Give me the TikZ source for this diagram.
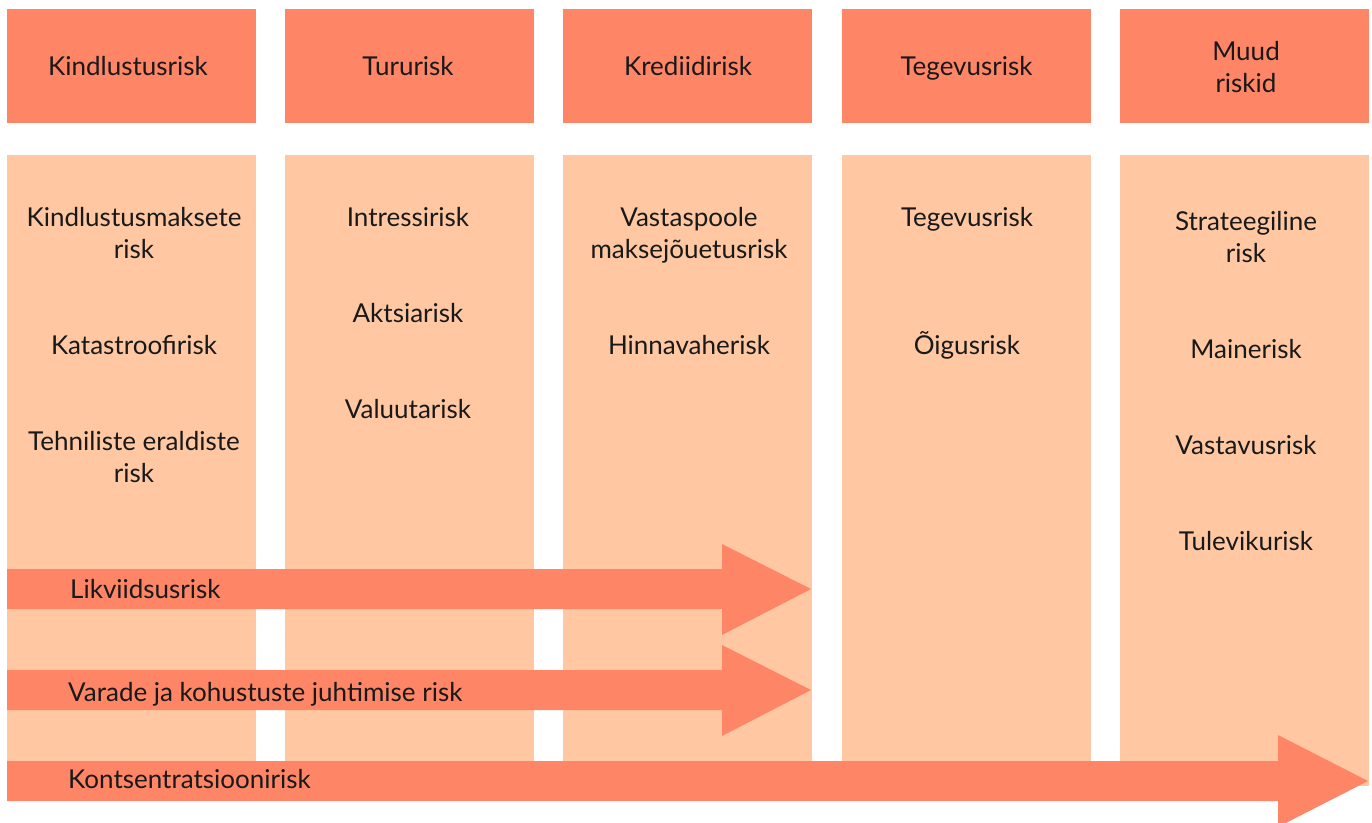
\documentclass[tikz,border=0pt]{standalone}
\usepackage{fontspec}
\setmainfont{Lato}
\definecolor{hdr}{HTML}{FF8567}
\definecolor{bdy}{HTML}{FFC8A2}
\tikzset{
  x=1pt,y=-1pt,
  lbl/.style={font=\fontsize{26}{32}\selectfont, align=center, inner sep=0pt, text=black!90},
  albl/.style={font=\fontsize{26}{32}\selectfont, anchor=west, inner sep=0pt, text=black!90},
}
\begin{document}
\begin{tikzpicture}
\useasboundingbox (0,0) rectangle (1372,822);
\clip (0,0) rectangle (1372,822);
% columns
\foreach \xl in {7,285,563,842,1120}{
  \fill[hdr] (\xl,9) rectangle ++(249,114);
}
\foreach \xl in {7,285,563,842}{
  \fill[bdy] (\xl,155) rectangle ++(249,606);
}
\fill[bdy] (1120,155) rectangle (1369,786);
% headers
\node[lbl] (h1) at (128,66) {Kindlustusrisk};
\node[lbl] (h2) at (408,66) {Tururisk};
\node[lbl] (h3) at (688,66) {Krediidirisk};
\node[lbl] (h4) at (966.5,68) {Tegevusrisk};
\node[lbl] (h5) at (1246,67) {Muud\\riskid};
% column 1
\node[lbl] (a1) at (134,233) {Kindlustusmaksete\\risk};
\node[lbl] (a2) at (134,345) {Katastroofirisk};
\node[lbl] (a3) at (134,457) {Tehniliste eraldiste\\risk};
% column 2
\node[lbl] (b1) at (408,217) {Intressirisk};
\node[lbl] (b2) at (408,313) {Aktsiarisk};
\node[lbl] (b3) at (408,409) {Valuutarisk};
% column 3
\node[lbl] (c1) at (689,235) {Vastaspoole\\maksejõuetusrisk};
\node[lbl] (c2) at (689,345) {Hinnavaherisk};
% column 4
\node[lbl] (d1) at (967,219) {Tegevusrisk};
\node[lbl] (d2) at (967,345) {Õigusrisk};
% column 5
\node[lbl] (e1) at (1246,237) {Strateegiline\\risk};
\node[lbl] (e2) at (1246,349) {Mainerisk};
\node[lbl] (e3) at (1246,445) {Vastavusrisk};
\node[lbl] (e4) at (1246,541) {Tulevikurisk};
% arrows
\fill[hdr] (7,569) -- (722,569) -- (722,544) -- (811,589) -- (722,635) -- (722,609) -- (7,609) -- cycle;
\fill[hdr] (7,670) -- (722,670) -- (722,645) -- (811,690) -- (722,736) -- (722,710) -- (7,710) -- cycle;
\fill[hdr] (7,761) -- (1278,761) -- (1278,735) -- (1368,781) -- (1278,827) -- (1278,801) -- (7,801) -- cycle;
\node[albl] (l1) at (70,589) {Likviidsusrisk};
\node[albl] (l2) at (68,694) {Varade ja kohustuste juhtimise risk};
\node[albl] (l3) at (68,779) {Kontsentratsioonirisk};
\end{tikzpicture}
\end{document}
